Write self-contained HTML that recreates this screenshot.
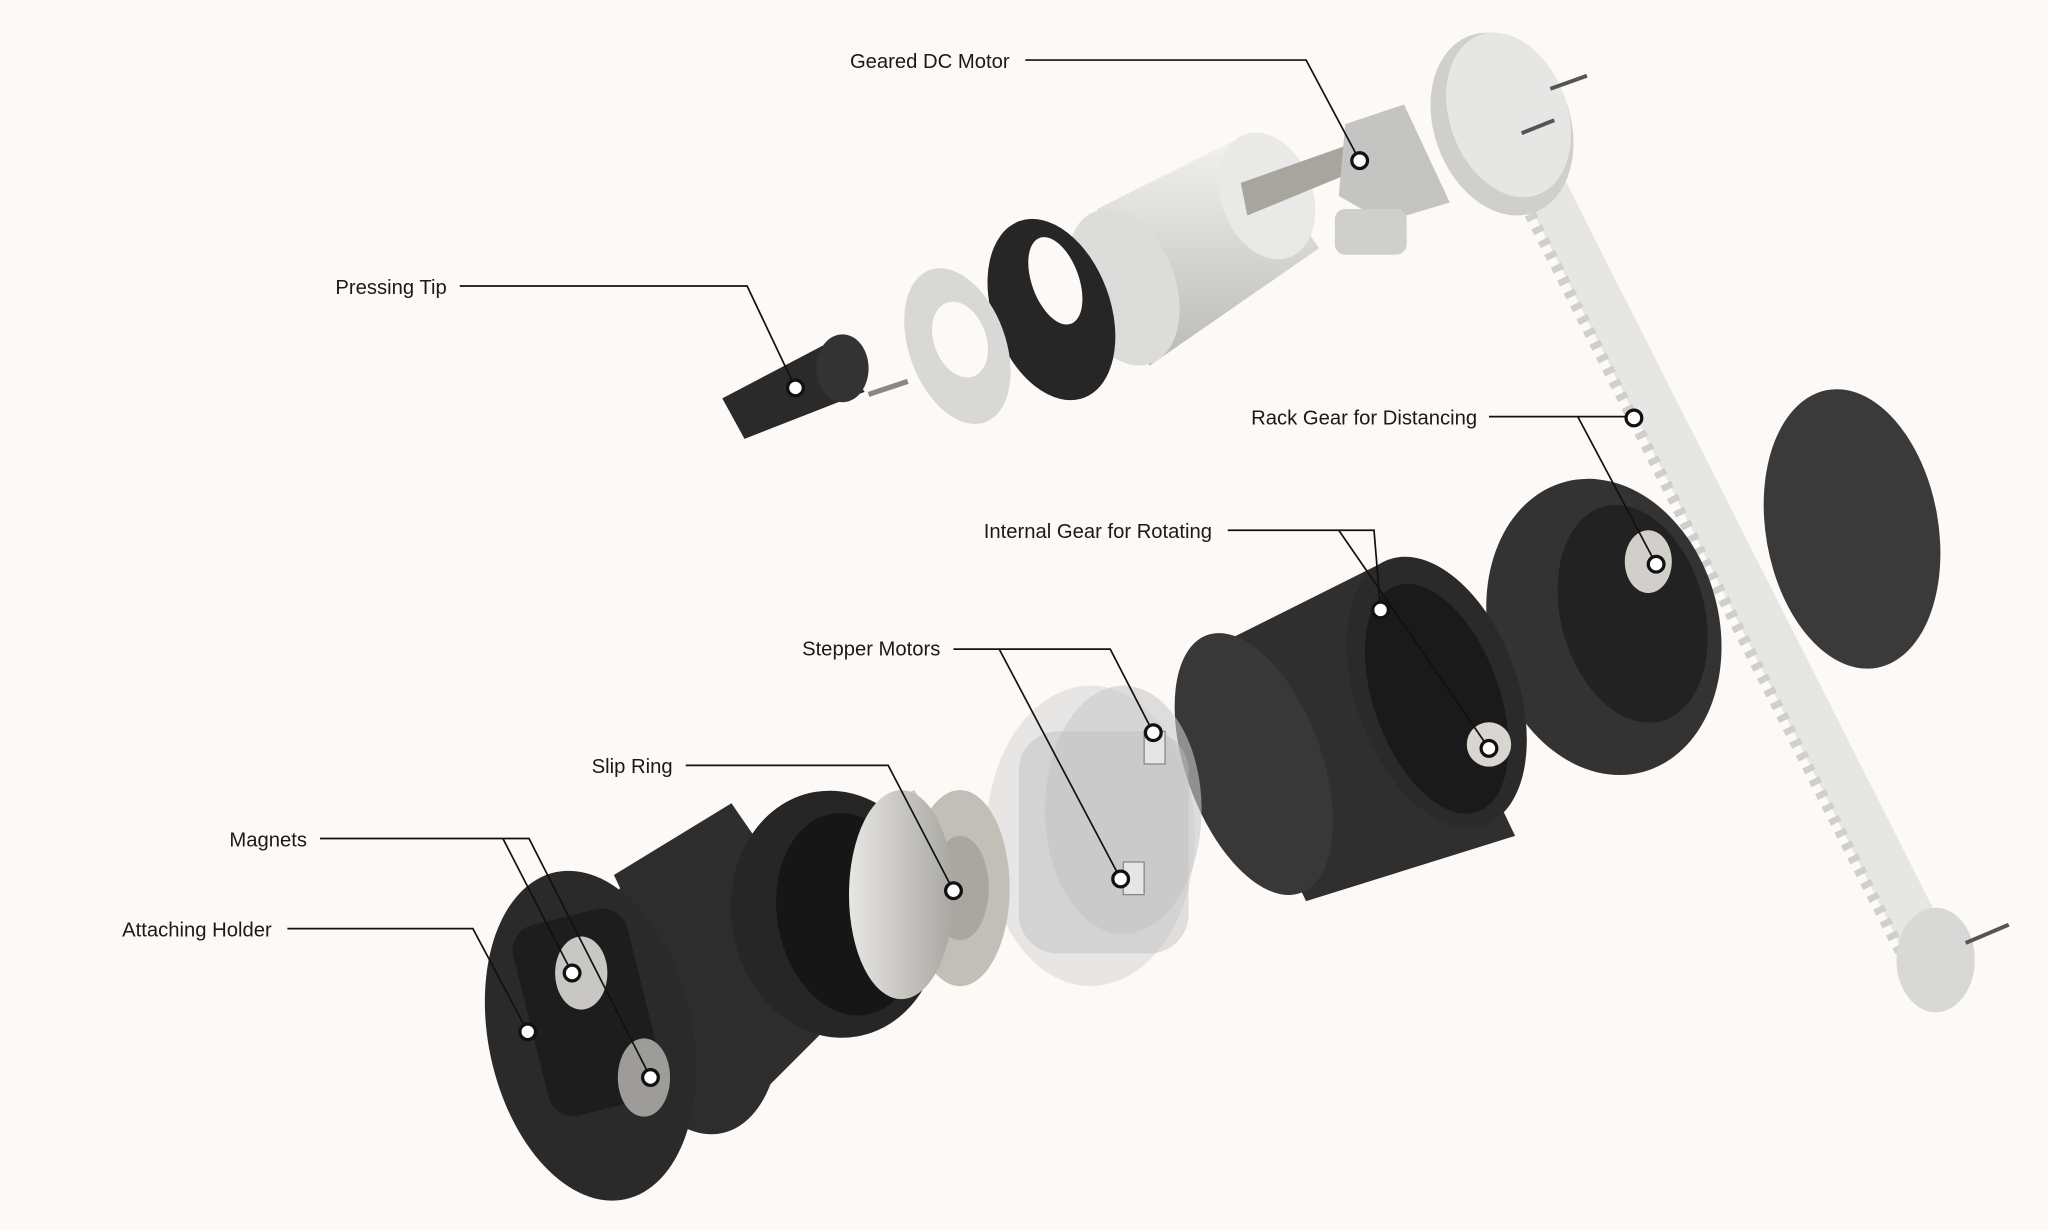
<!DOCTYPE html>
<html><head><meta charset="utf-8"><style>
html,body{margin:0;padding:0;background:#fcf9f7;}
svg{display:block}
text{font-family:"Liberation Sans",sans-serif;font-size:15.5px;fill:#1a1a1a}
</style></head><body>
<svg width="2048" height="1229" viewBox="0 0 1568 941" xmlns="http://www.w3.org/2000/svg">
<defs>
<linearGradient id="sil" x1="0" y1="0" x2="0" y2="1"><stop offset="0" stop-color="#f2f2f0"/><stop offset="1" stop-color="#b9b9b6"/></linearGradient>
<linearGradient id="sil2" x1="0" y1="0" x2="1" y2="0"><stop offset="0" stop-color="#e8e6e2"/><stop offset="1" stop-color="#a9a7a2"/></linearGradient>
</defs>
<rect width="1568" height="941" fill="#fcf9f7"/>

<!-- rack gear -->
<polygon points="1135,85 1165,72 1500,735 1468,750" fill="#e6e6e4"/>
<g stroke="#cfcfcd" stroke-width="9" stroke-dasharray="5 6"><line x1="1137" y1="95" x2="1462" y2="742"/></g>
<ellipse cx="1150" cy="95" rx="52" ry="72" transform="rotate(-20 1150 95)" fill="#cfcfcd"/>
<ellipse cx="1155" cy="88" rx="45" ry="65" transform="rotate(-20 1155 88)" fill="#e6e6e4"/>
<ellipse cx="1482" cy="735" rx="30" ry="40" fill="#d8d8d6"/>
<line x1="1187" y1="68" x2="1215" y2="58" stroke="#555" stroke-width="3"/>
<line x1="1165" y1="102" x2="1190" y2="92" stroke="#555" stroke-width="3"/>
<line x1="1505" y1="722" x2="1538" y2="708" stroke="#555" stroke-width="3"/>

<!-- dark disk -->
<ellipse cx="1418" cy="405" rx="66" ry="108" transform="rotate(-10 1418 405)" fill="#3a3a3a"/>

<!-- rear housing -->
<ellipse cx="1228" cy="480" rx="88" ry="115" transform="rotate(-15 1228 480)" fill="#333"/>
<ellipse cx="1250" cy="470" rx="55" ry="85" transform="rotate(-15 1250 470)" fill="#222"/>
<ellipse cx="1262" cy="430" rx="18" ry="24" fill="#d2cfca"/>

<!-- big black cylinder -->
<polygon points="910,505 1060,430 1160,640 1000,690" fill="#2f2f2f"/>
<ellipse cx="960" cy="585" rx="52" ry="105" transform="rotate(-20 960 585)" fill="#383838"/>
<ellipse cx="1100" cy="530" rx="62" ry="108" transform="rotate(-20 1100 530)" fill="#2a2a2a"/>
<ellipse cx="1100" cy="535" rx="48" ry="92" transform="rotate(-20 1100 535)" fill="#1a1a1a"/>
<circle cx="1140" cy="570" r="17" fill="#d9d6d1"/>

<!-- transparent stepper motors -->
<ellipse cx="835" cy="640" rx="80" ry="115" fill="#d8d8d8" opacity="0.6"/>
<ellipse cx="860" cy="620" rx="60" ry="95" fill="#c9c9c9" opacity="0.6"/>
<rect x="780" y="560" width="130" height="170" rx="30" fill="#bdbdbd" opacity="0.45"/>
<rect x="876" y="560" width="16" height="25" fill="#e5e5e5" stroke="#888"/>
<rect x="860" y="660" width="16" height="25" fill="#e5e5e5" stroke="#888"/>

<!-- slip ring -->
<polygon points="650,625 700,605 760,700 690,760" fill="url(#sil2)"/>
<ellipse cx="650" cy="690" rx="28" ry="68" fill="#d8d5cf"/>
<ellipse cx="735" cy="680" rx="38" ry="75" fill="#c2bfb9"/>
<ellipse cx="735" cy="680" rx="22" ry="40" fill="#aaa7a1"/>

<!-- black cylinder front -->
<polygon points="470,670 560,615 660,760 560,860" fill="#2e2e2e"/>
<ellipse cx="530" cy="760" rx="65" ry="110" transform="rotate(-12 530 760)" fill="#2d2d2d"/>
<ellipse cx="640" cy="700" rx="80" ry="95" transform="rotate(-10 640 700)" fill="#262626"/>
<ellipse cx="650" cy="700" rx="55" ry="78" transform="rotate(-10 650 700)" fill="#161616"/>
<ellipse cx="690" cy="685" rx="40" ry="80" fill="url(#sil2)"/>

<!-- attaching holder -->
<ellipse cx="452" cy="793" rx="78" ry="128" transform="rotate(-12 452 793)" fill="#2a2a2a"/>
<rect x="405" y="700" width="90" height="150" rx="20" transform="rotate(-14 450 775)" fill="#1d1d1d"/>
<ellipse cx="445" cy="745" rx="20" ry="28" fill="#c9c7c4"/>
<ellipse cx="493" cy="825" rx="20" ry="30" fill="#9e9c99"/>

<!-- DC motor group -->
<polygon points="840,160 950,105 1010,190 880,280" fill="url(#sil)"/>
<ellipse cx="860" cy="220" rx="40" ry="62" transform="rotate(-20 860 220)" fill="#dcdcda"/>
<ellipse cx="970" cy="150" rx="35" ry="50" transform="rotate(-20 970 150)" fill="#e9e9e7"/>
<polygon points="950,140 1035,110 1040,130 955,165" fill="#a8a59e"/>
<polygon points="1030,95 1075,80 1110,155 1060,170 1025,150" fill="#c4c4c2"/>
<rect x="1022" y="160" width="55" height="35" rx="8" fill="#cfcfcd"/>
<ellipse cx="805" cy="237" rx="45" ry="72" transform="rotate(-20 805 237)" fill="#262626"/>
<ellipse cx="808" cy="215" rx="18" ry="35" transform="rotate(-20 808 215)" fill="#fcf9f7"/>
<ellipse cx="733" cy="265" rx="37" ry="62" transform="rotate(-20 733 265)" fill="#d8d8d6"/>
<ellipse cx="735" cy="260" rx="20" ry="30" transform="rotate(-20 735 260)" fill="#fcf9f7"/>
<polygon points="553,305 635,262 662,300 570,336" fill="#2a2a2a"/>
<ellipse cx="645" cy="282" rx="20" ry="26" fill="#333"/>
<line x1="665" y1="302" x2="695" y2="292" stroke="#888" stroke-width="4"/>

<!-- leader lines -->
<g fill="none" stroke="#111" stroke-width="1.3">
<polyline points="785,46 1000,46 1041,123"/>
<polyline points="352,219 572,219 609,297"/>
<polyline points="1140,319 1250,319"/>
<polyline points="1208,319 1268,432"/>
<polyline points="940,406 1052,406 1057,467"/>
<polyline points="1025,406 1140,573"/>
<polyline points="730,497 850,497 883,561"/>
<polyline points="765,497 858,673"/>
<polyline points="525,586 680,586 730,682"/>
<polyline points="245,642 405,642 498,825"/>
<polyline points="385,642 438,745"/>
<polyline points="220,711 362,711 404,790"/>
</g>
<g fill="#fff" stroke="#111" stroke-width="2.5">
<circle cx="1041" cy="123" r="6"/><circle cx="609" cy="297" r="6"/>
<circle cx="1251" cy="320" r="6"/><circle cx="1268" cy="432" r="6"/>
<circle cx="1057" cy="467" r="6"/><circle cx="1140" cy="573" r="6"/>
<circle cx="883" cy="561" r="6"/><circle cx="858" cy="673" r="6"/>
<circle cx="730" cy="682" r="6"/><circle cx="498" cy="825" r="6"/>
<circle cx="438" cy="745" r="6"/><circle cx="404" cy="790" r="6"/>
</g>
<g text-anchor="end">
<text x="773" y="52">Geared DC Motor</text>
<text x="342" y="225">Pressing Tip</text>
<text x="1131" y="325">Rack Gear for Distancing</text>
<text x="928" y="412">Internal Gear for Rotating</text>
<text x="720" y="502">Stepper Motors</text>
<text x="515" y="592">Slip Ring</text>
<text x="235" y="648">Magnets</text>
<text x="208" y="717">Attaching Holder</text>
</g>
</svg>
</body></html>
